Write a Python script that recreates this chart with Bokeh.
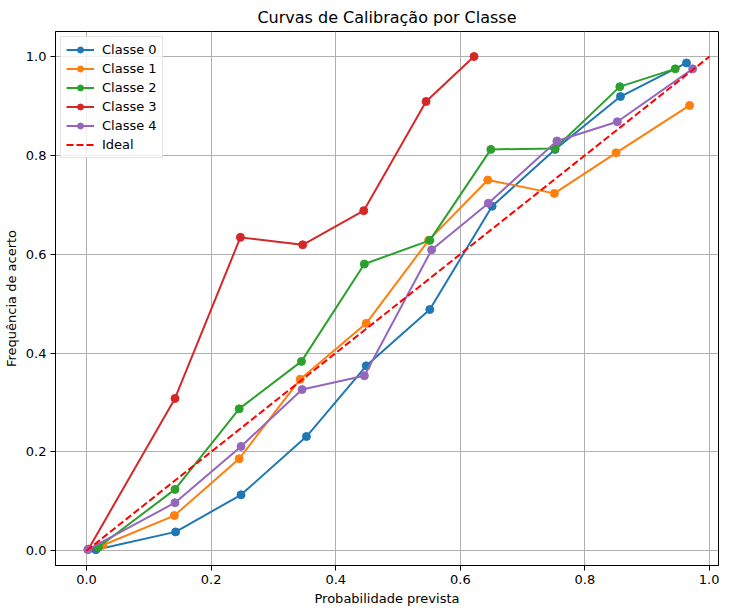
from bokeh.plotting import figure
from bokeh.models import FixedTicker, NumeralTickFormatter, Range1d
from bokeh.embed import file_html
from bokeh.resources import INLINE

# ---- data ----
class0_x = [0.015, 0.143, 0.248, 0.353, 0.449, 0.551, 0.651, 0.752, 0.857, 0.963]
class0_y = [0.002, 0.038, 0.113, 0.231, 0.374, 0.488, 0.697, 0.812, 0.919, 0.987]

class1_x = [0.026, 0.141, 0.245, 0.343, 0.449, 0.549, 0.644, 0.751, 0.850, 0.968]
class1_y = [0.011, 0.071, 0.186, 0.347, 0.460, 0.628, 0.750, 0.723, 0.805, 0.901]

class2_x = [0.019, 0.142, 0.245, 0.345, 0.446, 0.551, 0.649, 0.752, 0.856, 0.945]
class2_y = [0.007, 0.124, 0.287, 0.383, 0.580, 0.628, 0.812, 0.814, 0.939, 0.975]

class3_x = [0.003, 0.142, 0.247, 0.347, 0.445, 0.545, 0.622]
class3_y = [0.003, 0.308, 0.634, 0.619, 0.688, 0.909, 1.000]

class4_x = [0.002, 0.142, 0.248, 0.346, 0.446, 0.554, 0.645, 0.755, 0.852, 0.973]
class4_y = [0.002, 0.097, 0.211, 0.326, 0.354, 0.609, 0.703, 0.829, 0.868, 0.975]

ideal_x = [0.0, 1.0]
ideal_y = [0.0, 1.0]

series_names = ["Classe 0", "Classe 1", "Classe 2", "Classe 3", "Classe 4"]
series_x = [class0_x, class1_x, class2_x, class3_x, class4_x]
series_y = [class0_y, class1_y, class2_y, class3_y, class4_y]
colors = ["#1f77b4", "#ff7f0e", "#2ca02c", "#d62728", "#9467bd"]

tick_values = [0.0, 0.2, 0.4, 0.6, 0.8, 1.0]

FONT = "DejaVu Sans"

p = figure(
    frame_width=663, frame_height=534,
    x_range=Range1d(-0.0498, 1.0144), y_range=Range1d(-0.030, 1.0506),
    output_backend="svg", toolbar_location=None,
    title="Curvas de Calibração por Classe",
    min_border_left=49, min_border_right=1, min_border_top=24, min_border_bottom=38,
)

p.title.align = "center"
p.title.text_font = FONT
p.title.text_font_size = "16px"
p.title.text_font_style = "normal"
p.title.text_color = "#000000"

for name, xs, ys, c in zip(series_names, series_x, series_y, colors):
    p.line(xs, ys, line_color=c, line_width=2, legend_label=name)
    p.scatter(xs, ys, marker="circle", size=8, fill_color=c, line_color=c, legend_label=name)

p.line(ideal_x, ideal_y, line_color="#ff0000", line_width=2, line_dash="7 3", legend_label="Ideal")

for ax in (p.xaxis[0], p.yaxis[0]):
    ax.ticker = FixedTicker(ticks=tick_values)
    ax.formatter = NumeralTickFormatter(format="0.0")
    ax.major_label_text_font = FONT
    ax.major_label_text_font_size = "13px"
    ax.major_label_text_color = "#000000"
    ax.axis_label_text_font = FONT
    ax.axis_label_text_font_size = "13px"
    ax.axis_label_text_font_style = "normal"
    ax.axis_label_text_color = "#000000"
    ax.major_tick_in = 0
    ax.major_tick_out = 5
    ax.minor_tick_line_color = None
    ax.axis_line_color = "#000000"
    ax.major_tick_line_color = "#000000"
    ax.major_label_standoff = 4
    ax.axis_label_standoff = 4

p.xaxis.axis_label = "Probabilidade prevista"
p.yaxis.axis_label = "Frequência de acerto"

p.xgrid.grid_line_color = "#b0b0b0"
p.ygrid.grid_line_color = "#b0b0b0"
p.xgrid.grid_line_width = 1
p.ygrid.grid_line_width = 1
p.xgrid.ticker = FixedTicker(ticks=tick_values)
p.ygrid.ticker = FixedTicker(ticks=tick_values)

p.outline_line_color = "#000000"
p.outline_line_width = 1
p.background_fill_color = "white"
p.border_fill_color = "white"

lg = p.legend[0]
lg.location = "top_left"
lg.margin = 5
lg.padding = 5
lg.spacing = 4
lg.label_height = 15
lg.glyph_height = 15
lg.glyph_width = 28
lg.label_standoff = 8
lg.label_text_font = FONT
lg.label_text_font_size = "13px"
lg.label_text_color = "#000000"
lg.border_line_color = "#cccccc"
lg.border_line_width = 1
lg.background_fill_alpha = 0.8

open("out.html", "w").write(file_html(p, INLINE))
